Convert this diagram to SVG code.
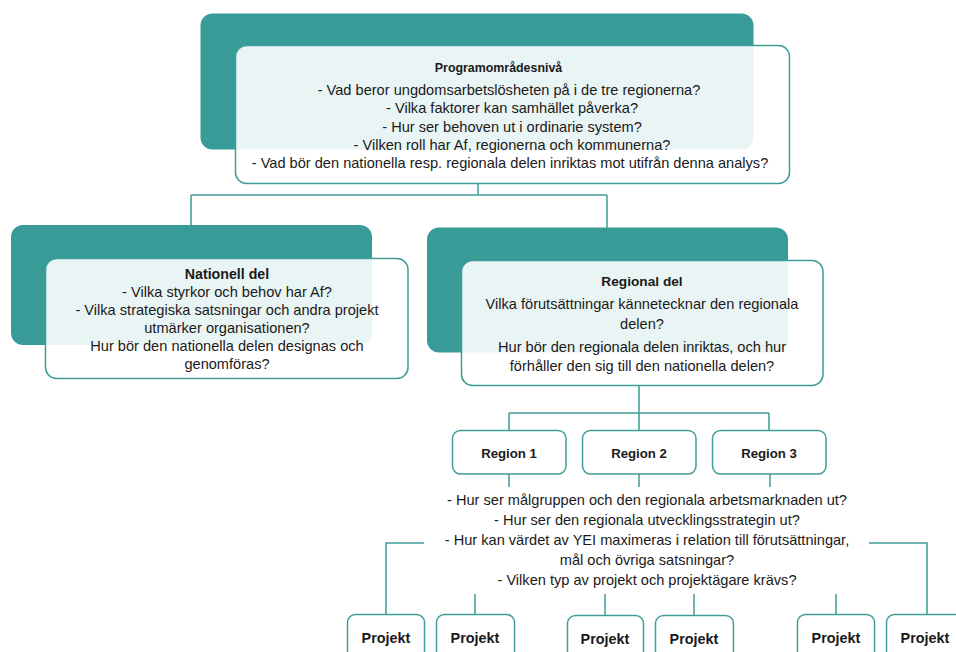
<svg xmlns="http://www.w3.org/2000/svg" width="956" height="652" viewBox="0 0 956 652">
<style>
.bg{fill:#399b98;}
.card{fill:#ffffff;fill-opacity:0.89;stroke:#3f9c99;stroke-width:1.5;}
.box{fill:#ffffff;stroke:#3f9c99;stroke-width:1.5;}
.conn{fill:none;stroke:#3f9c99;stroke-width:1.5;}
text{font-family:"Liberation Sans",Arial,sans-serif;fill:#1a1a1a;text-anchor:middle;}
.t{font-size:14.6px;}
.b{font-size:13.2px;font-weight:bold;}
.p{font-size:14.4px;font-weight:bold;}
</style>
<g id="connectors">
<path class="conn" d="M478,183 V195 M191,195 H607 M191,195 V225 M607,195 V228"/>
<path class="conn" d="M639,385 V413 M509,413 H769 M509,413 V430 M639,413 V430 M769,413 V430"/>
<path class="conn" d="M509,474 V487 M639,474 V487 M770,474 V487"/>
<path class="conn" d="M424,543 H386 V614 M475,594 V614 M605,594 V615 M694,594 V615 M836,594 V614 M869,543 H927 V614"/>
</g>
<g id="programomradesniva">
<rect class="bg" x="200.5" y="13.5" width="553" height="136" rx="12"/>
<rect class="card" x="235.5" y="45.5" width="554" height="138" rx="11"/>
<text class="b" x="498.5" y="72" style="font-size:12.4px">Programområdesnivå</text>
<text class="t" x="509" y="95">- Vad beror ungdomsarbetslösheten på i de tre regionerna?</text>
<text class="t" x="512" y="113">- Vilka faktorer kan samhället påverka?</text>
<text class="t" x="512" y="132">- Hur ser behoven ut i ordinarie  system?</text>
<text class="t" x="512" y="150">- Vilken roll har Af, regionerna och kommunerna?</text>
<text class="t" x="510" y="168">- Vad bör den nationella resp. regionala delen inriktas mot utifrån denna analys?</text>
</g>
<g id="nationell">
<rect class="bg" x="11" y="225" width="361" height="120" rx="12"/>
<rect class="card" x="45.5" y="258.5" width="362.5" height="120" rx="11"/>
<text class="b" x="227" y="279" style="font-size:14.2px">Nationell del</text>
<text class="t" x="227" y="297">- Vilka styrkor och behov har Af?</text>
<text class="t" x="227" y="315">- Vilka strategiska satsningar och andra projekt</text>
<text class="t" x="227" y="333">utmärker organisationen?</text>
<text class="t" x="227" y="351">Hur bör den nationella delen designas och</text>
<text class="t" x="227" y="369">genomföras?</text>
</g>
<g id="regional">
<rect class="bg" x="427" y="227.5" width="361" height="125" rx="12"/>
<rect class="card" x="461.5" y="260.5" width="361.5" height="125" rx="11"/>
<text class="b" x="642" y="286" style="font-size:13.7px">Regional del</text>
<text class="t" x="642" y="309">Vilka förutsättningar kännetecknar den regionala</text>
<text class="t" x="642" y="329">delen?</text>
<text class="t" x="642" y="352">Hur bör den regionala delen inriktas, och hur</text>
<text class="t" x="642" y="371">förhåller den sig till den nationella delen?</text>
</g>
<g id="region1"><rect class="box" x="452.5" y="430.5" width="113.5" height="43.5" rx="8"/><text class="b" x="509" y="458">Region 1</text></g>
<g id="region2"><rect class="box" x="582.5" y="430.5" width="113.5" height="43.5" rx="8"/><text class="b" x="639" y="458">Region 2</text></g>
<g id="region3"><rect class="box" x="712.5" y="430.5" width="113.5" height="43.5" rx="8"/><text class="b" x="769" y="458">Region 3</text></g>
<g id="regionfragor">
<text class="t" x="647" y="505">- Hur ser målgruppen och den regionala arbetsmarknaden ut?</text>
<text class="t" x="647" y="525">- Hur ser den regionala utvecklingsstrategin ut?</text>
<text class="t" x="647" y="545">- Hur kan värdet av YEI maximeras i relation till förutsättningar,</text>
<text class="t" x="647" y="565">mål och övriga satsningar?</text>
<text class="t" x="647" y="585">- Vilken typ av projekt och projektägare krävs?</text>
</g>
<g id="projekt1"><rect class="box" x="347.5" y="614.5" width="77" height="50" rx="8"/><text class="p" x="386" y="643">Projekt</text></g>
<g id="projekt2"><rect class="box" x="436.5" y="614.5" width="78" height="50" rx="8"/><text class="p" x="475" y="643">Projekt</text></g>
<g id="projekt3"><rect class="box" x="567.5" y="615.5" width="76" height="50" rx="8"/><text class="p" x="605" y="644">Projekt</text></g>
<g id="projekt4"><rect class="box" x="655.5" y="615.5" width="78" height="50" rx="8"/><text class="p" x="694" y="644">Projekt</text></g>
<g id="projekt5"><rect class="box" x="797.5" y="614.5" width="77" height="50" rx="8"/><text class="p" x="836" y="643">Projekt</text></g>
<g id="projekt6"><rect class="box" x="886.5" y="614.5" width="80" height="50" rx="8"/><text class="p" x="925" y="643">Projekt</text></g>
</svg>
